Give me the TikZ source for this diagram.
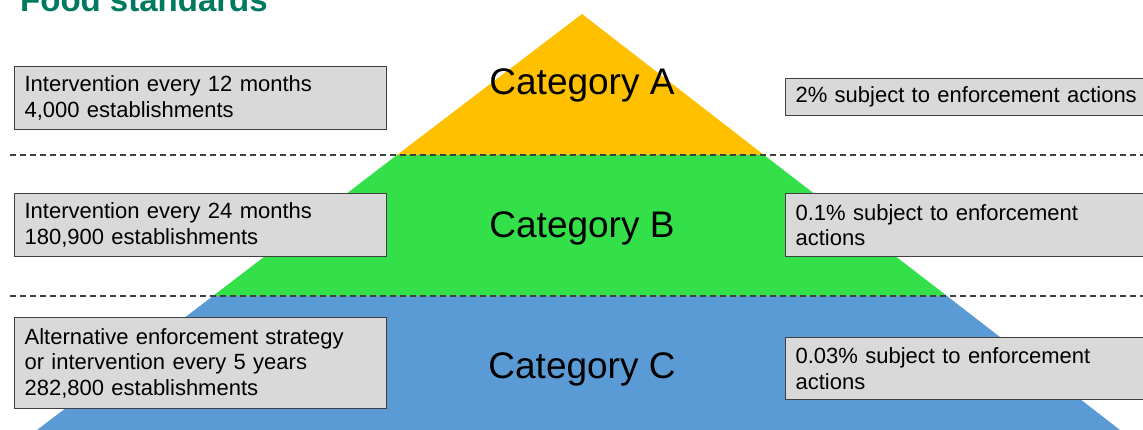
\documentclass[tikz,border=0pt]{standalone}
\usepackage{fontspec}
\setmainfont{Liberation Sans}
\definecolor{fsgreen}{RGB}{0,122,94}
\definecolor{catyellow}{RGB}{255,192,0}
\definecolor{catgreen}{RGB}{51,224,74}
\definecolor{catblue}{RGB}{91,155,213}
\definecolor{boxgray}{RGB}{217,217,217}
\definecolor{edgegray}{RGB}{64,64,64}
\tikzset{
  infobox/.style={draw=edgegray, line width=1.2pt, fill=boxgray, anchor=north west,
    inner xsep=10pt, align=left, font=\fontsize{22}{25.5}\selectfont},
  catlabel/.style={anchor=base, font=\fontsize{37}{40}\selectfont},
  bandline/.style={draw=edgegray, line width=1.2pt, dash pattern=on 6pt off 4pt}
}

\begin{document}
\begin{tikzpicture}[x=1pt, y=-1pt]
\clip (0,0) rectangle (1143,430);
\fill[white] (0,0) rectangle (1143,430);
\node[anchor=base west, inner sep=0pt, text=fsgreen, font=\fontsize{33}{36}\selectfont\bfseries] (title) at (20,12) {Food standards};

\fill[catyellow] (582,14) -- (764,155) -- (397,155) -- cycle;
\fill[catgreen] (397,155) -- (764,155) -- (947,296) -- (213,296) -- cycle;
\fill[catblue] (213,296) -- (947,296) -- (1120,430) -- (37,430) -- cycle;

\coordinate (lineAL) at (10,155);
\coordinate (lineAR) at (1143,155);
\coordinate (lineBL) at (10,296);
\coordinate (lineBR) at (1143,296);
\draw[bandline] (lineAL) -- (lineAR);
\draw[bandline] (lineBL) -- (lineBR);

\node[catlabel] (catA) at (582,95) {Category A};
\node[catlabel] (catB) at (582,238) {Category B};
\node[catlabel] (catC) at (582,378) {Category C};

\node[infobox, minimum width=372pt, minimum height=63pt, text width=352pt] (leftA) at (14,66)
  {Intervention every 12 months\\4,000 establishments};
\node[infobox, minimum width=372pt, minimum height=63pt, text width=352pt] (leftB) at (14,193)
  {Intervention every 24 months\\180,900 establishments};
\node[infobox, minimum width=372pt, minimum height=91pt, text width=352pt] (leftC) at (14,317)
  {Alternative enforcement strategy\\or intervention every 5 years\\282,800 establishments};

\node[infobox, minimum width=400pt, minimum height=37pt, text width=380pt] (rightA) at (785,78)
  {2\% subject to enforcement actions};
\node[infobox, minimum width=400pt, minimum height=63pt, text width=380pt] (rightB) at (785,193)
  {0.1\% subject to enforcement\\actions};
\node[infobox, minimum width=400pt, minimum height=62pt, text width=380pt] (rightC) at (785,337)
  {0.03\% subject to enforcement\\actions};
\end{tikzpicture}
\end{document}
